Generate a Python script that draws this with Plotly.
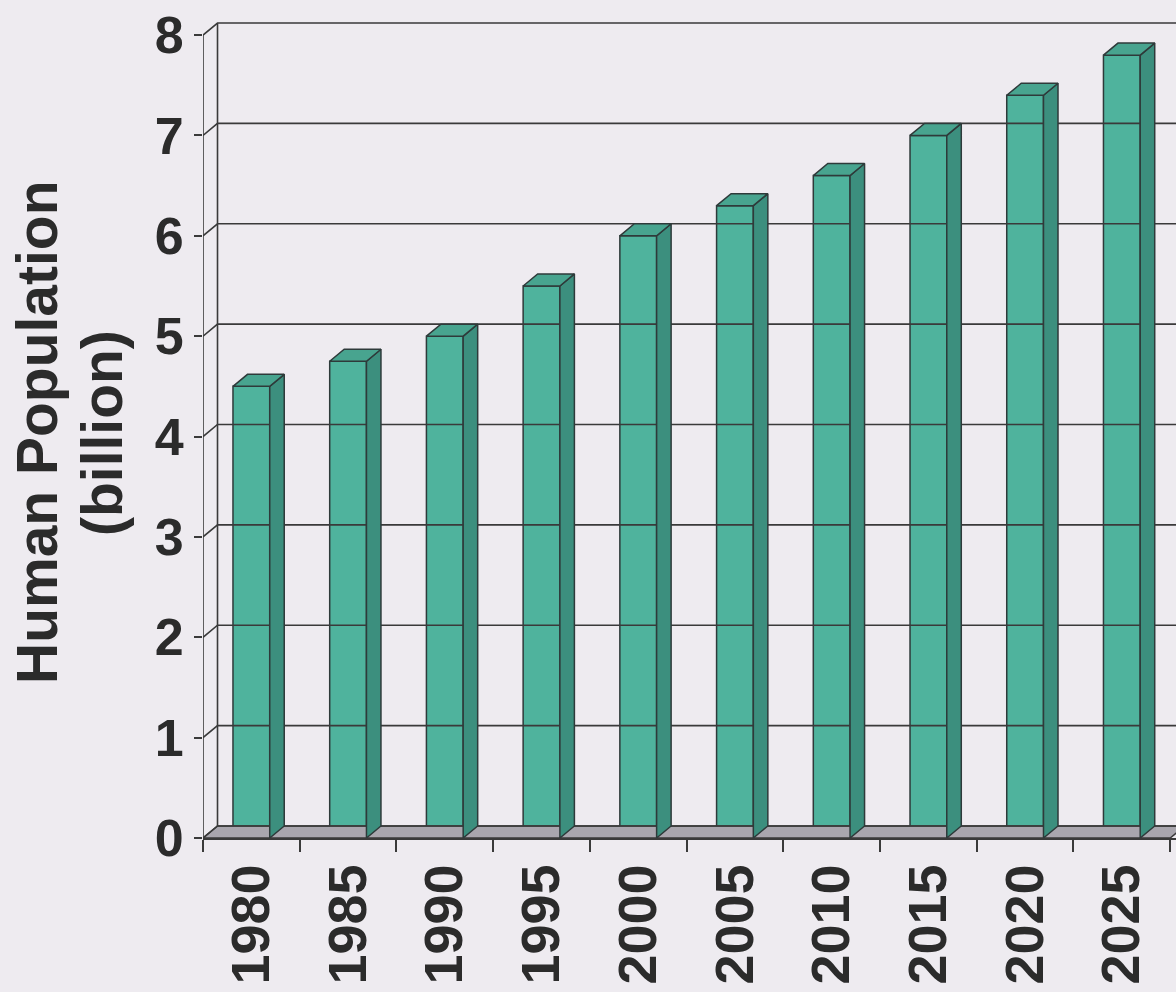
import plotly.graph_objects as go

years = ["1980", "1985", "1990", "1995", "2000", "2005", "2010", "2015", "2020", "2025"]
population = [4.5, 4.75, 5.0, 5.5, 6.0, 6.3, 6.6, 7.0, 7.4, 7.8]
y_ticks = [0, 1, 2, 3, 4, 5, 6, 7, 8]

BG = "#EEEBF0"
FRONT = "#4FB39D"
SIDE = "#3C8F7E"
TOP = "#48A48F"
EDGE = "#2E3A3A"
LINE = "#3A3A3A"
FLOOR = "#A9A6AE"

DX = 0.15    # depth offset in x units
DY = 0.12    # depth offset in y units
HW = 0.19    # half bar width

xs = list(range(len(years)))
xmin, xmax = -0.5, len(years) - 0.5

fig = go.Figure()

# floor
fig.add_trace(go.Scatter(
    x=[xmin, xmax, xmax + DX, xmin + DX, xmin],
    y=[0, 0, DY, DY, 0], mode="lines", fill="toself",
    fillcolor=FLOOR, line=dict(color=LINE, width=1.5), hoverinfo="skip", showlegend=False))

# back-wall gridlines and left-wall connectors
gx, gy = [], []
for t in y_ticks:
    gx += [xmin, xmin + DX, xmax + 1, None]
    gy += [t, t + DY, t + DY, None]
gx += [xmin + DX, xmin + DX, None]
gy += [DY, y_ticks[-1] + DY, None]
gx += [xmin, xmin, None]
gy += [0, y_ticks[-1], None]
fig.add_trace(go.Scatter(x=gx, y=gy, mode="lines", line=dict(color=LINE, width=1.6),
                         hoverinfo="skip", showlegend=False))

# front faces
fig.add_trace(go.Bar(x=xs, y=population, width=2 * HW,
                     marker=dict(color=FRONT, line=dict(color=EDGE, width=1.5)),
                     showlegend=False, hoverinfo="skip"))

# side and top faces
sx, sy = [], []
tx, ty = [], []
for x, v in zip(xs, population):
    x0, x1 = x - HW, x + HW
    sx += [x1, x1 + DX, x1 + DX, x1, x1, None]
    sy += [0, DY, v + DY, v, 0, None]
    tx += [x0, x0 + DX, x1 + DX, x1, x0, None]
    ty += [v, v + DY, v + DY, v, v, None]
fig.add_trace(go.Scatter(x=sx, y=sy, mode="lines", fill="toself", fillcolor=SIDE,
                         line=dict(color=EDGE, width=1.5), hoverinfo="skip", showlegend=False))
fig.add_trace(go.Scatter(x=tx, y=ty, mode="lines", fill="toself", fillcolor=TOP,
                         line=dict(color=EDGE, width=1.5), hoverinfo="skip", showlegend=False))

font_main = dict(family="Liberation Sans, Arial, sans-serif", size=48, color="#2B2B2B", weight="bold")

L, T, B = 203, 15, 154
PW, PH = 1176 - L, 992 - T - B

fig.update_layout(
    width=1176, height=992,
    margin=dict(l=L, r=0, t=T, b=B, autoexpand=False),
    paper_bgcolor=BG, plot_bgcolor=BG,
    font=font_main,
    xaxis=dict(
        range=[xmin, xmax + 0.06], tickmode="array", tickvals=xs, ticktext=years,
        tickangle=-90, ticks="outside", ticklen=3, tickcolor="rgba(0,0,0,0)",
        showgrid=False, zeroline=False, showline=True, linecolor=LINE, linewidth=1.6,
        tickfont=dict(size=54), automargin=False,
        minor=dict(tickmode="array", tickvals=[i - 0.5 for i in range(len(years) + 1)],
                   ticks="outside", ticklen=12, tickcolor=LINE, tickwidth=1.6),
    ),
    yaxis=dict(
        range=[0, 8.2], tickmode="array", tickvals=y_ticks, ticktext=[str(t) for t in y_ticks],
        ticks="outside", ticklen=8, tickcolor=LINE, tickwidth=1.6,
        showgrid=False, zeroline=False, showline=False,
        tickfont=dict(size=52), automargin=False,
    ),
    annotations=[
        dict(text="Human Population", xref="paper", yref="paper",
             x=(37 - L) / PW, y=(838 - 433) / PH, textangle=-90, showarrow=False,
             font=dict(size=57), xanchor="center", yanchor="middle"),
        dict(text="(billion)", xref="paper", yref="paper",
             x=(102 - L) / PW, y=(838 - 433) / PH, textangle=-90, showarrow=False,
             font=dict(size=57), xanchor="center", yanchor="middle"),
    ],
)

fig.write_html(
    "out.html",
    config={"displayModeBar": False},
    post_script="document.body.style.margin='0';document.body.style.padding='0';"
                "document.body.style.overflow='hidden';document.body.style.background='" + BG + "';",
)
